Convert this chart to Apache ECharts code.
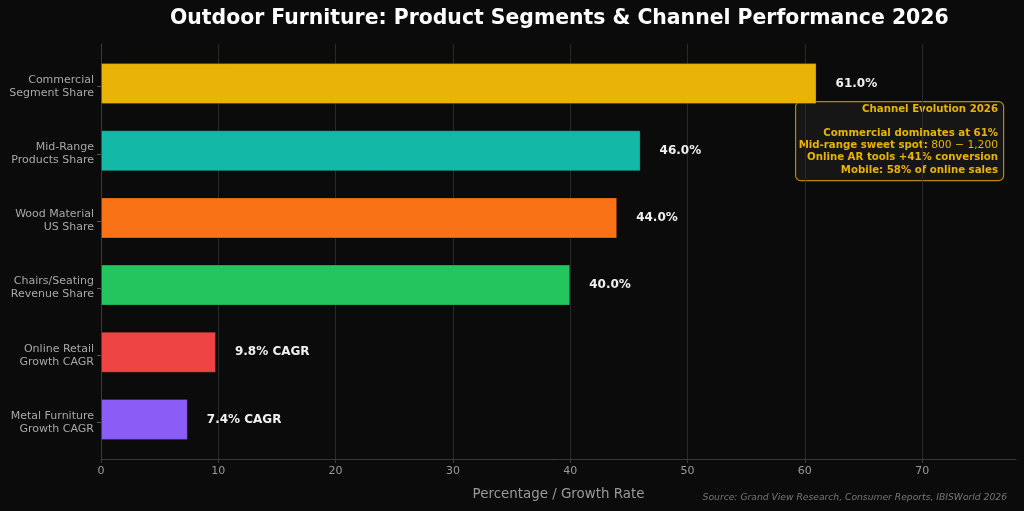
<!DOCTYPE html>
<html><head><meta charset="utf-8">
<script src="https://cdn.jsdelivr.net/npm/echarts@6/dist/echarts.min.js"></script>
<style>html,body{margin:0;padding:0;background:#0b0b0b;}#c{width:1024px;height:511px;}</style>
</head><body><div id="c"></div>
<script>
const categories = ["Commercial\nSegment Share","Mid-Range\nProducts Share","Wood Material\nUS Share","Chairs/Seating\nRevenue Share","Online Retail\nGrowth CAGR","Metal Furniture\nGrowth CAGR"];
const values = [61.0, 46.0, 44.0, 40.0, 9.8, 7.4];
const valueLabels = ["61.0%","46.0%","44.0%","40.0%","9.8% CAGR","7.4% CAGR"];
const colors = ["#EAB308","#14B8A6","#F97316","#22C55E","#EF4444","#8B5CF6"];
const xTicks = [0,10,20,30,40,50,60,70];
const noteTitle = "Channel Evolution 2026";
const noteLines = ["Commercial dominates at 61%", ["Mid-range sweet spot: ", "800 − 1,200"], "Online AR tools +41% conversion", "Mobile: 58% of online sales"];

const FONT = "DejaVu Sans";
const GOLD = "#EAB308";
const chart = echarts.init(document.getElementById('c'));
const data = values.map((v,i)=>({value:v, itemStyle:{color:colors[i]}, label:{formatter:valueLabels[i]}}));

const noteFS = 10.2;
const graphics = [
  {type:'rect', left:795, top:101, shape:{width:208, height:79, r:5},
   style:{fill:'#161616', stroke:'#b8860b', lineWidth:1.2}},
  {type:'text', x:998, y:109, style:{text:noteTitle, align:'right', verticalAlign:'middle', fill:GOLD,
    fontFamily:FONT, fontWeight:'bold', fontSize:noteFS}}
];
noteLines.forEach((ln,i)=>{
  const y = 133 + i*12.3;
  if (Array.isArray(ln)) {
    graphics.push({type:'text', x:998, y:y, style:{text:"{b|"+ln[0]+"}{n|"+ln[1]+"}", align:'right', verticalAlign:'middle',
      fill:GOLD, fontFamily:FONT, fontSize:noteFS,
      rich:{b:{fontFamily:FONT, fontWeight:'bold', fontSize:noteFS, fill:GOLD, color:GOLD},
            n:{fontFamily:FONT, fontWeight:'normal', fontSize:noteFS+0.5, fill:GOLD, color:GOLD}}}});
  } else {
    graphics.push({type:'text', x:998, y:y, style:{text:ln, align:'right', verticalAlign:'middle', fill:GOLD,
      fontFamily:FONT, fontWeight:'bold', fontSize:noteFS}});
  }
});
graphics.push({type:'text', x:1007, y:498, style:{text:"Source: Grand View Research, Consumer Reports, IBISWorld 2026",
  align:'right', verticalAlign:'middle', fill:'#777', fontFamily:FONT, fontStyle:'italic', fontSize:9.2}});

chart.setOption({
  backgroundColor:'#0b0b0b',
  animation:false,
  title:{text:"Outdoor Furniture: Product Segments & Channel Performance 2026", left:165, top:4,
    textStyle:{color:'#ffffff', fontFamily:FONT, fontWeight:'bold', fontSize:20.4}},
  grid:[
    {left:101, right:8, top:44, bottom:52, containLabel:false},
    {left:101, right:8, top:50, bottom:58, containLabel:false},
    {left:101, right:8, top:53, bottom:55, containLabel:false}
  ],
  xAxis:[
    {gridIndex:0, type:'value', min:0, max:78, interval:10,
     axisLine:{show:true, lineStyle:{color:'#3a3a3a'}},
     axisTick:{show:true, length:4, lineStyle:{color:'#3a3a3a'}, customValues:xTicks},
     axisLabel:{color:'#9a9a9a', fontFamily:FONT, fontSize:11, margin:7,
       customValues:xTicks, formatter:v=>String(v)},
     splitLine:{show:true, lineStyle:{color:'#2a2a2a', width:1}},
     name:"Percentage / Growth Rate", nameLocation:'middle', nameGap:29,
     nameTextStyle:{color:'#9a9a9a', fontFamily:FONT, fontSize:13.4}},
    {gridIndex:1, type:'value', min:0, max:78, show:false},
    {gridIndex:2, type:'value', min:0, max:78, show:false}
  ],
  yAxis:[
    {gridIndex:0, type:'value', min:0, max:1, axisLine:{show:true, lineStyle:{color:'#3a3a3a'}},
     axisTick:{show:false}, axisLabel:{show:false}, splitLine:{show:false}},
    {gridIndex:1, type:'category', data:categories, inverse:true,
     axisLine:{show:false}, axisTick:{show:false}, axisLabel:{show:false}, splitLine:{show:false}},
    {gridIndex:2, type:'category', data:categories, inverse:true,
     axisLine:{show:false}, axisTick:{show:true, alignWithLabel:true, length:4, lineStyle:{color:'#555'}},
     axisLabel:{color:'#a8a8a8', fontFamily:FONT, fontSize:11, lineHeight:13, margin:7, align:'right'},
     splitLine:{show:false}}
  ],
  series:[{
    type:'bar', xAxisIndex:1, yAxisIndex:1, data:data, barWidth:41,
    itemStyle:{borderColor:'rgba(0,0,0,0.25)', borderWidth:1},
    label:{show:true, position:'right', distance:19, color:'#f0f0f0', fontFamily:FONT, fontWeight:'bold', fontSize:12}
  }],
  graphic:graphics
});
</script></body></html>
